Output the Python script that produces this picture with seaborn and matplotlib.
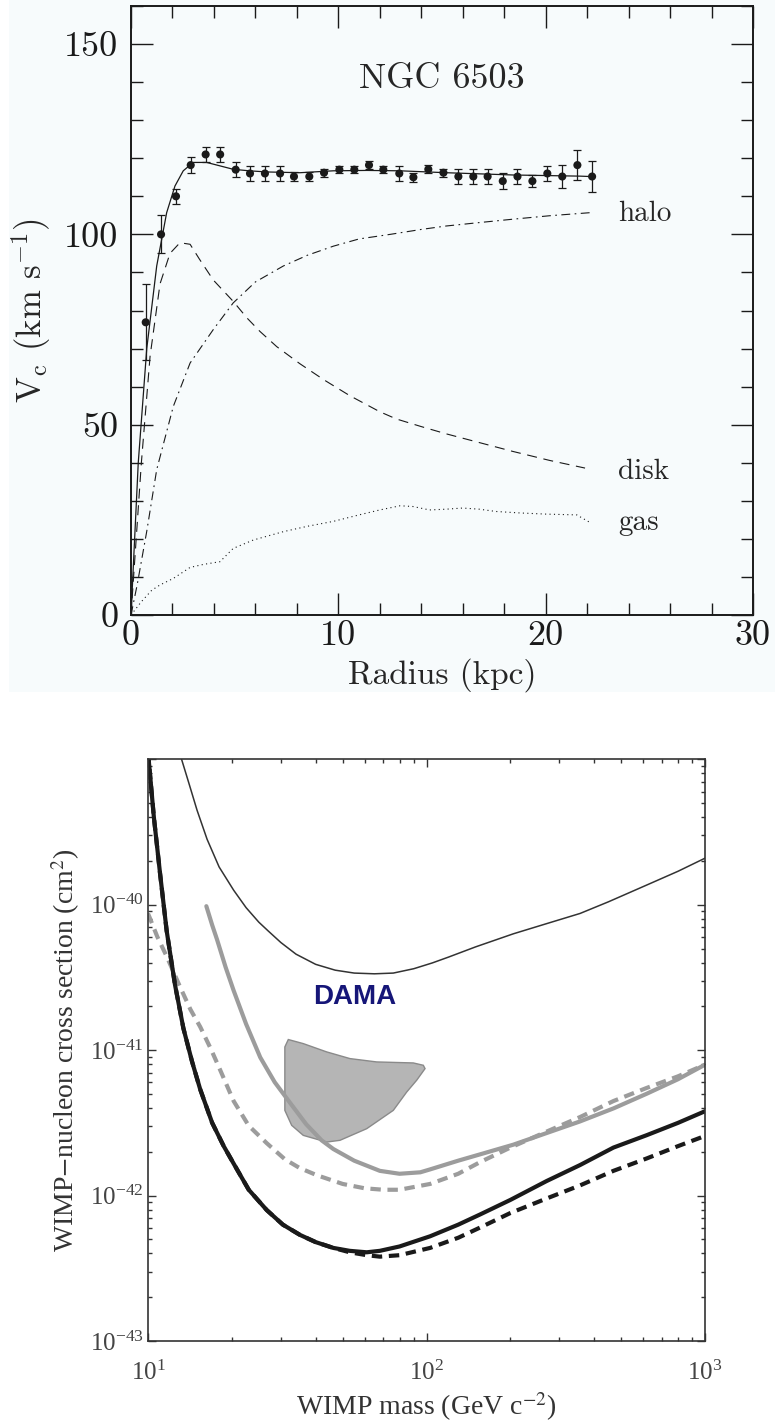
import numpy as np
import pandas as pd
import seaborn as sns
import matplotlib.pyplot as plt
from matplotlib.patches import Rectangle
from matplotlib.ticker import MultipleLocator, FixedLocator, LogLocator, NullFormatter

# Courbe de rotation de NGC 6503
r_obs = [0.71, 1.45, 2.17, 2.88, 3.6, 4.3, 5.05, 5.74, 6.46, 7.19, 7.86, 8.6, 9.31,
         10.05, 10.77, 11.48, 12.17, 12.94, 13.62, 14.34, 15.07, 15.79, 16.51, 17.2,
         17.93, 18.64, 19.36, 20.08, 20.8, 21.53, 22.24]
v_obs = [76.9, 100.0, 110.0, 118.2, 121.0, 121.0, 117.0, 116.0, 116.0, 116.0, 115.2, 115.2, 116.2,
         117.0, 117.0, 118.2, 117.0, 116.0, 115.0, 117.1, 116.2, 115.2, 115.2, 115.2,
         114.0, 115.2, 114.0, 116.0, 115.2, 118.2, 115.2]
v_err = [10, 5, 2, 2, 2, 2, 2, 2, 2, 2, 1.2, 1.2, 1,
         1, 1, 1, 1, 2, 1.2, 1, 1, 2, 2, 2,
         2, 2, 1.5, 2, 3, 4, 4]

r_fit = [0, 0.35, 0.76, 1.24, 1.72, 2.12, 2.52, 3.0, 3.65, 4.29, 4.93, 5.7, 6.55, 8.15,
         9.76, 11.37, 12.98, 15.2, 18.44, 21.66, 22.14]
v_fit = [0, 40, 70, 91.7, 105.7, 112.7, 116.7, 118.9, 118.9, 118.0, 117.1, 116.7, 116.4, 116.2,
         116.7, 116.8, 116.7, 116.2, 115.6, 115.3, 115.2]

r_disk = [0, 0.5, 0.92, 1.4, 1.88, 2.36, 2.85, 3.3, 3.97, 4.93, 5.6, 6.22, 7.03, 8.15, 9.3, 10.56,
          12.0, 12.8, 14.0, 15.2, 16.8, 18.4, 20.2, 21.9]
v_disk = [0, 40, 68, 87, 95, 97.8, 97.4, 93.5, 88, 82.4, 78, 74.5, 70.5, 66, 61.8, 57.6,
          53.4, 51.5, 49.5, 47.6, 45.3, 43, 40.6, 38.6]

r_halo = [0, 0.3, 0.76, 1.24, 2.04, 2.85, 3.97, 4.93, 6.0, 7.35, 8.5, 9.76, 11.0, 12.5, 14.0,
          15.2, 16.8, 18.44, 20.2, 22.14]
v_halo = [0, 8, 22, 38.2, 54.8, 66.2, 75, 82, 87.5, 91.7, 94.5, 96.9, 98.8, 100, 101.3,
          102.2, 103.1, 104, 104.9, 105.7]

r_gas = [0, 0.5, 1.0, 1.4, 2.04, 2.85, 3.5, 4.29, 4.93, 5.9, 7.35, 8.5, 9.76, 11.0, 12.0,
         12.98, 13.6, 14.4, 15.2, 16.0, 16.8, 17.6, 18.8, 20.05, 21.5, 22.14]
v_gas = [0, 3.5, 6.5, 7.9, 9.6, 12.5, 13.3, 14.0, 17.5, 19.7, 21.9, 23.3, 24.6, 26.3, 27.6,
         28.7, 28.5, 27.6, 27.8, 28.1, 27.8, 27.2, 26.8, 26.5, 26.3, 24.3]

comp_labels = ['halo', 'disk', 'gas']
comp_label_y = [105.5, 37.7, 24.3]

# Limites WIMP : masse (GeV) et log10 de la section efficace (cm^2)
m_thin = [13.2, 14.0, 15.0, 16.3, 18.0, 20.3, 22.5, 25.0, 27.0, 30.0, 34.0, 40.0, 47.0, 55.0, 65.0,
          76.0, 90.0, 105.0, 120.0, 150.0, 205.0, 270.0, 356.0, 450.0, 617.0, 800.0, 1000.0]
s_thin = [-39.0, -39.16, -39.35, -39.55, -39.74, -39.90, -40.02, -40.12, -40.18, -40.26, -40.34, -40.41,
          -40.45, -40.47, -40.475, -40.47, -40.44, -40.40, -40.36, -40.29, -40.20, -40.13, -40.06,
          -39.98, -39.865, -39.77, -39.68]

m_gray = [16.2, 17.0, 17.7, 19.0, 20.3, 22.5, 25.3, 28.5, 32.3, 37.0, 42.0, 46.3, 55.0, 68.0, 80.0,
          95.0, 103.0, 130.0, 160.0, 205.0, 270.0, 356.0, 470.0, 617.0, 800.0, 1000.0]
s_gray = [-40.01, -40.14, -40.24, -40.43, -40.59, -40.82, -41.05, -41.22, -41.36, -41.51, -41.62,
          -41.68, -41.76, -41.83, -41.85, -41.84, -41.82, -41.76, -41.71, -41.65, -41.57, -41.49,
          -41.40, -41.30, -41.20, -41.10]

m_gray_d = [10.0, 10.8, 11.7, 13.0, 14.2, 15.4, 16.8, 18.1, 20.3, 23.0, 26.7, 31.0, 35.0, 40.4, 50.0,
            60.0, 70.0, 80.0, 103.0, 130.0, 155.7, 200.0, 270.0, 356.0, 469.0, 617.0, 800.0, 1000.0]
s_gray_d = [-40.06, -40.22, -40.36, -40.56, -40.72, -40.84, -40.99, -41.13, -41.35, -41.52, -41.64,
            -41.75, -41.81, -41.86, -41.92, -41.95, -41.96, -41.96, -41.92, -41.85, -41.77, -41.67,
            -41.56, -41.46, -41.35, -41.26, -41.18, -41.10]

m_black = [10.0, 10.5, 11.04, 11.67, 12.5, 13.4, 14.4, 15.4, 17.0, 18.7, 20.3, 23.0, 26.7, 30.5, 35.1,
           40.0, 46.3, 53.0, 61.0, 68.0, 80.0, 103.0, 130.0, 155.7, 200.0, 270.0, 356.0, 469.0,
           617.0, 800.0, 1000.0]
s_black = [-38.95, -39.40, -39.78, -40.18, -40.55, -40.85, -41.08, -41.27, -41.50, -41.66, -41.78,
           -41.96, -42.10, -42.20, -42.27, -42.32, -42.36, -42.38, -42.39, -42.38, -42.35, -42.28,
           -42.20, -42.13, -42.03, -41.90, -41.79, -41.67, -41.585, -41.50, -41.42]

m_black_d = [10.0, 10.5, 11.04, 11.67, 12.5, 13.4, 14.4, 15.4, 17.0, 18.7, 20.3, 23.0, 26.7, 30.5,
             35.1, 40.0, 46.3, 53.0, 61.0, 68.0, 80.0, 103.0, 130.0, 155.7, 200.0, 270.0, 356.0,
             469.0, 617.0, 800.0, 1000.0]
s_black_d = [-38.95, -39.40, -39.78, -40.18, -40.55, -40.85, -41.08, -41.27, -41.50, -41.66, -41.78,
             -41.96, -42.10, -42.20, -42.27, -42.32, -42.36, -42.39, -42.41, -42.42, -42.41, -42.36,
             -42.29, -42.22, -42.12, -42.02, -41.93, -41.83, -41.745, -41.66, -41.59]

m_dama = [31.9, 31.0, 31.0, 32.8, 36.1, 43.8, 48.9, 61.0, 76.0, 84.9, 92.2, 98.8, 97.4, 89.7, 66.2,
          53.1, 43.8, 36.1]
s_dama = [-40.927, -40.978, -41.414, -41.517, -41.586, -41.632, -41.620, -41.540, -41.414, -41.288,
          -41.207, -41.127, -41.104, -41.088, -41.081, -41.058, -41.012, -40.955]

sns.set_theme(style='ticks')
plt.rcParams['font.family'] = ['cmr10', 'DejaVu Serif']
plt.rcParams['mathtext.fontset'] = 'stix'
plt.rcParams['axes.unicode_minus'] = True

fig = plt.figure(figsize=(7.75, 14.23), dpi=100)
bg = '#f7fbfc'
fig.patches.append(Rectangle((0.012, 1 - 692 / 1423), 0.988, 692 / 1423, transform=fig.transFigure,
                             facecolor=bg, edgecolor='none', zorder=-5))

# ---------------- panneau du haut ----------------
ax1 = fig.add_axes([131 / 775, 1 - 615 / 1423, 622 / 775, 609 / 1423])
ax1.set_facecolor(bg)

sns.lineplot(x=r_fit, y=v_fit, ax=ax1, color='k', lw=0.9, estimator=None, sort=False)
sns.lineplot(x=r_disk, y=v_disk, ax=ax1, color='k', lw=0.8, linestyle=(0, (9, 6)), estimator=None, sort=False)
sns.lineplot(x=r_halo, y=v_halo, ax=ax1, color='k', lw=0.8, linestyle=(0, (8, 4, 1.5, 4)), estimator=None, sort=False)
sns.lineplot(x=r_gas, y=v_gas, ax=ax1, color='k', lw=0.8, linestyle=(0, (1, 3)), estimator=None, sort=False)
ax1.errorbar(r_obs, v_obs, yerr=v_err, fmt='none', ecolor='k', elinewidth=0.9, capsize=3, capthick=0.9)
sns.scatterplot(x=r_obs, y=v_obs, ax=ax1, color='k', s=34, edgecolor='none', zorder=5)

ax1.set_xlim(0, 30)
ax1.set_ylim(0, 160)
ax1.xaxis.set_major_locator(MultipleLocator(10))
ax1.xaxis.set_minor_locator(MultipleLocator(2))
ax1.yaxis.set_major_locator(FixedLocator([0, 50, 100, 150]))
ax1.yaxis.set_minor_locator(MultipleLocator(10))
ax1.tick_params(which='both', direction='in', top=True, right=True, colors='k', width=1.0)
ax1.tick_params(which='major', length=16, labelsize=26)
ax1.tick_params(axis='y', which='major', pad=9)
ax1.tick_params(axis='x', which='major', pad=4)
ax1.tick_params(which='minor', length=8.5)
for s in ax1.spines.values():
    s.set_color('k')
    s.set_linewidth(1.4)

ax1.text(15, 140.8, 'NGC 6503', ha='center', va='center', fontsize=26)
for lab, yy in zip(comp_labels, comp_label_y):
    ax1.text(23.5, yy, lab, ha='left', va='center', fontsize=21)

ax1.set_xlabel('Radius (kpc)', fontsize=24, labelpad=4)
ax1.set_ylabel(r'$\mathrm{V_c}$ (km s$^{-\mathrm{1}}$)', fontsize=25, labelpad=8, math_fontfamily='cm')

# ---------------- panneau du bas ----------------
ax2 = fig.add_axes([148 / 775, 1 - 1341 / 1423, 557 / 775, 581.7 / 1423])
ax2.set_facecolor('white')
ax2.set_xscale('log')
ax2.set_yscale('log')

ax2.fill(m_dama, [10 ** v for v in s_dama], facecolor='#b5b5b5', edgecolor='#8a8a8a', lw=1.0, zorder=1)
sns.lineplot(x=m_thin, y=[10 ** v for v in s_thin], ax=ax2, color='#333333', lw=1.1, estimator=None, sort=False)
sns.lineplot(x=m_gray, y=[10 ** v for v in s_gray], ax=ax2, color='#9c9c9c', lw=3.0, estimator=None, sort=False)
sns.lineplot(x=m_gray_d, y=[10 ** v for v in s_gray_d], ax=ax2, color='#9c9c9c', lw=3.0,
             linestyle=(0, (2.5, 1.6)), estimator=None, sort=False)
sns.lineplot(x=m_black_d, y=[10 ** v for v in s_black_d], ax=ax2, color='k', lw=3.0,
             linestyle=(0, (2.5, 1.6)), estimator=None, sort=False)
sns.lineplot(x=m_black, y=[10 ** v for v in s_black], ax=ax2, color='k', lw=3.0, estimator=None, sort=False)

ax2.text(55.3, 10 ** -40.636, 'DAMA', ha='center', va='center', fontsize=20, fontweight='bold',
         color='#161678', family='Liberation Sans')

ax2.set_xlim(10, 1000)
ax2.set_ylim(1e-43, 1e-39)
ax2.yaxis.set_major_locator(FixedLocator([1e-43, 1e-42, 1e-41, 1e-40, 1e-39]))
ax2.yaxis.set_minor_locator(LogLocator(base=10, subs=np.arange(2, 10)))
ax2.yaxis.set_minor_formatter(NullFormatter())
ax2.xaxis.set_minor_locator(LogLocator(base=10, subs=np.arange(2, 10)))
ax2.xaxis.set_minor_formatter(NullFormatter())
ax2.tick_params(which='both', direction='in', top=True, right=True, colors='#333333', width=1.0,
                labelfontfamily='Liberation Serif', labelcolor='#444444')
ax2.tick_params(which='major', length=6, labelsize=18)
ax2.tick_params(axis='y', which='major', pad=3)
ax2.tick_params(axis='x', which='major', pad=14)
ax2.tick_params(which='minor', length=3)
ax2.set_yticklabels([r'$\mathdefault{10^{-43}}$', r'$\mathdefault{10^{-42}}$', r'$\mathdefault{10^{-41}}$',
                     r'$\mathdefault{10^{-40}}$', ''])
for s in ax2.spines.values():
    s.set_color('#333333')
    s.set_linewidth(1.2)

ax2.set_xlabel(r'WIMP mass (GeV c$^{-2}$)', fontsize=20, family='Liberation Serif', color='#333333',
               labelpad=4)
ax2.set_ylabel(r'WIMP$-$nucleon cross section (cm$^2$)', fontsize=20, family='Liberation Serif',
               color='#333333', labelpad=6)

fig.savefig('out.png', dpi=100)
